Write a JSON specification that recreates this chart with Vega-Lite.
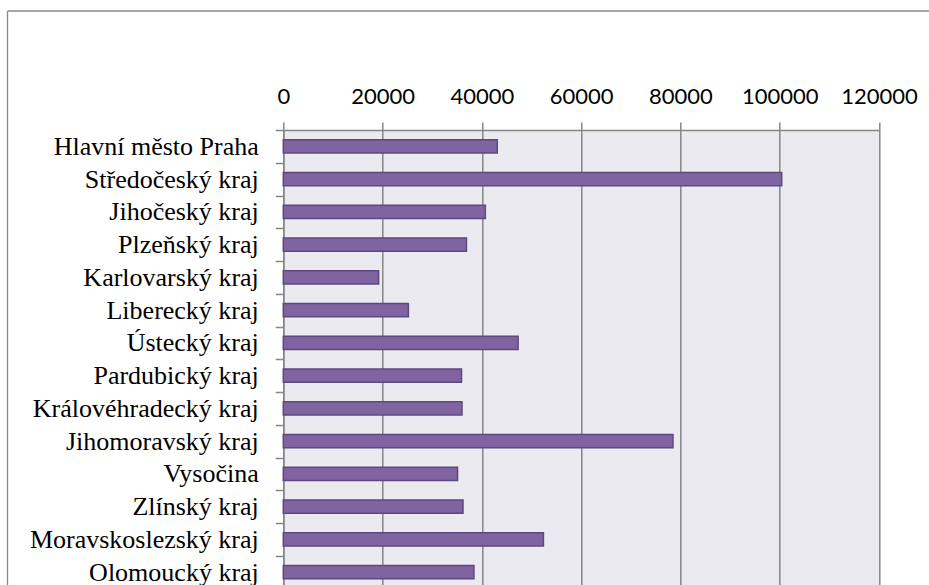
{
  "$schema": "https://vega.github.io/schema/vega-lite/v6.json",
  "usermeta": {"embedOptions": {"actions": false}},
  "width": 595.7,
  "height": 455,
  "autosize": {"type": "none"},
  "padding": {"left": 283.3, "top": 130, "right": 50, "bottom": 0},
  "background": "white",
  "config": {"view": {"fill": "#ECEAF1", "stroke": null}},
  "layer": [
    {
      "description": "Outer chart-area border (top and left edges)",
      "data": {"values": [{}]},
      "layer": [
        {
          "mark": {"type": "rule", "color": "#8a8a8a", "strokeWidth": 1.3},
          "encoding": {
            "x": {"datum": 0, "type": "quantitative", "scale": {"domain": [0, 1], "range": [-275.8, 660]}, "axis": null},
            "x2": {"datum": 1},
            "y": {"datum": 0, "type": "quantitative", "scale": {"domain": [0, 1], "range": [-119, 480]}, "axis": null}
          }
        },
        {
          "mark": {"type": "rule", "color": "#8a8a8a", "strokeWidth": 1.3},
          "encoding": {
            "x": {"datum": 0, "type": "quantitative", "axis": null},
            "y": {"datum": 0, "type": "quantitative", "axis": null},
            "y2": {"datum": 1}
          }
        }
      ]
    },
    {
      "data": {
        "values": [
          {"region": "Hlavní město Praha", "value": 43100},
          {"region": "Středočeský kraj", "value": 100400},
          {"region": "Jihočeský kraj", "value": 40700},
          {"region": "Plzeňský kraj", "value": 36900},
          {"region": "Karlovarský kraj", "value": 19200},
          {"region": "Liberecký kraj", "value": 25200},
          {"region": "Ústecký kraj", "value": 47300},
          {"region": "Pardubický kraj", "value": 35900},
          {"region": "Královéhradecký kraj", "value": 36000},
          {"region": "Jihomoravský kraj", "value": 78500},
          {"region": "Vysočina", "value": 35100},
          {"region": "Zlínský kraj", "value": 36200},
          {"region": "Moravskoslezský kraj", "value": 52400},
          {"region": "Olomoucký kraj", "value": 38400}
        ]
      },
      "mark": {"type": "bar", "fill": "#8064A2", "stroke": "#5D4A7C", "strokeWidth": 1.5, "height": {"band": 0.4}},
      "encoding": {
        "y": {
          "field": "region",
          "type": "nominal",
          "sort": null,
          "scale": {"range": [0, 458.5], "paddingInner": 0, "paddingOuter": 0},
          "axis": {
            "title": null,
            "tickBand": "extent",
            "labelFont": "Liberation Serif",
            "labelFontSize": 26,
            "labelColor": "#000000",
            "labelLimit": 400,
            "labelPadding": 17,
            "labelBaseline": "alphabetic",
            "labelOffset": 8,
            "tickSize": 8,
            "tickColor": "#868686",
            "tickWidth": 1.5,
            "domainColor": "#868686",
            "domainWidth": 1.5,
            "grid": false
          }
        },
        "x": {
          "field": "value",
          "type": "quantitative",
          "scale": {"domain": [0, 120000], "nice": false},
          "axis": {
            "orient": "top",
            "title": null,
            "values": [0, 20000, 40000, 60000, 80000, 100000, 120000],
            "format": "d",
            "labelFont": "Lato",
            "labelFontSize": 22,
            "labelColor": "#000000",
            "labelBaseline": "alphabetic",
            "labelPadding": 19,
            "labelFlush": false,
            "labelOverlap": false,
            "tickSize": 8,
            "tickColor": "#868686",
            "tickWidth": 1.5,
            "domainColor": "#868686",
            "domainWidth": 1.5,
            "grid": true,
            "gridColor": "#868686",
            "gridWidth": 1.5,
            "gridOpacity": 1
          }
        }
      }
    }
  ],
  "resolve": {"scale": {"x": "independent", "y": "independent"}}
}
